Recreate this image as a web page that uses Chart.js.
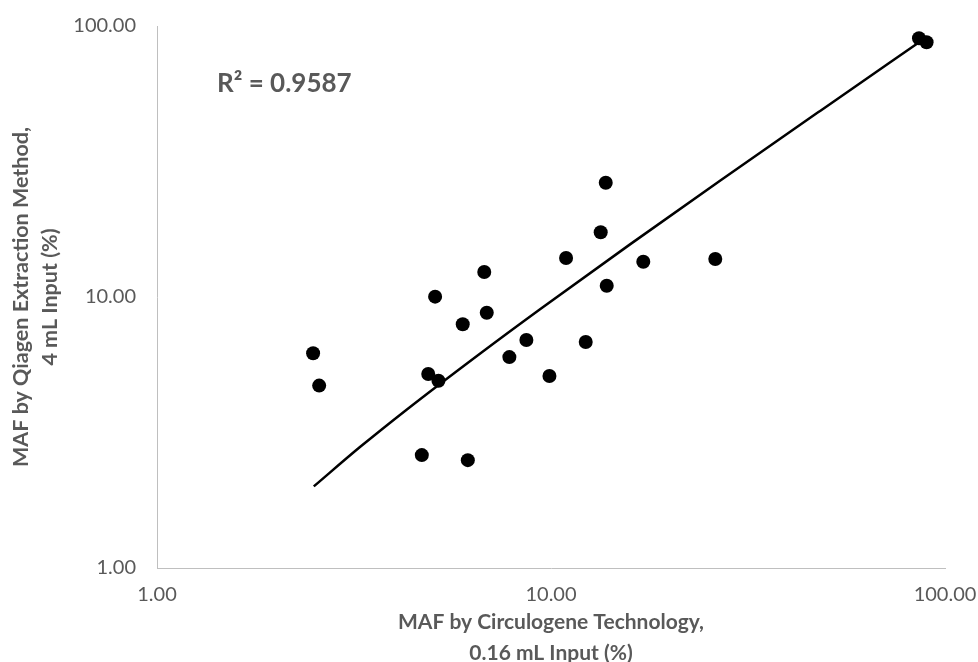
<!DOCTYPE html>
<html>
<head>
<meta charset="utf-8">
<script src="https://cdn.jsdelivr.net/npm/chart.js@4/dist/chart.umd.min.js"></script>
<style>
  html, body { margin: 0; padding: 0; background: #fff; }
  #wrap { width: 978px; height: 662px; }
</style>
</head>
<body>
<div id="wrap"><canvas id="graph" width="978" height="662"></canvas></div>
<script>
// MAF by Circulogene (x) vs Qiagen (y), in %
const circulogene = [2.49, 2.58, 5.08, 6.77, 6.87, 5.97, 4.88, 5.18, 7.84, 8.66, 4.70,
                     6.15, 9.91, 13.77, 13.37, 10.92, 17.15, 26.12, 13.85, 12.25, 85.9, 89.8];
const qiagen      = [6.20, 4.71, 10.03, 12.37, 8.75, 7.93, 5.20, 4.91, 6.00, 6.94, 2.61,
                     2.50, 5.11, 26.41, 17.33, 13.93, 13.50, 13.81, 11.01, 6.82, 90.1, 87.1];

// trendline as it appears on the log axes
const trendX = [2.50, 3.28, 4.30, 6.60, 9.38, 15.87, 26.85, 48.2, 88.0];
const trendY = [2.00, 2.80, 3.84, 6.18, 9.02, 15.64, 26.84, 48.6, 89.2];

const tickValues = [1, 10, 100];
const rSquared = 'R\u00B2 = 0.9587';

const grey = '#595959';
const axisGrey = '#bfbfbf';
const fontFamily = 'Lato, "Open Sans", sans-serif';

const points = circulogene.map((x, i) => ({ x: x, y: qiagen[i] }));
const trend = trendX.map((x, i) => ({ x: x, y: trendY[i] }));

const r2Label = {
    id: 'r2Label',
    afterDraw(chart) {
        const c = chart.ctx;
        c.save();
        c.font = 'bold 26px ' + fontFamily;
        c.fillStyle = grey;
        c.textBaseline = 'middle';
        c.textAlign = 'left';
        c.fillText(rSquared, 217, 84);
        c.restore();
    }
};

const ctx = document.getElementById('graph');

new Chart(ctx, {
    type: 'scatter',
    data: {
        datasets: [
            {
                label: 'MAF',
                data: points,
                backgroundColor: '#000',
                borderColor: '#000',
                borderWidth: 0,
                pointRadius: 7,
                order: 1
            },
            {
                label: 'Trend',
                data: trend,
                showLine: true,
                borderColor: '#000',
                borderWidth: 2.5,
                pointRadius: 0,
                cubicInterpolationMode: 'monotone',
                fill: false,
                order: 2
            }
        ]
    },
    options: {
        responsive: false,
        animation: false,
        events: [],
        layout: { autoPadding: false, padding: { top: 26, right: 33, left: 0, bottom: 0 } },
        plugins: {
            legend: { display: false },
            tooltip: { enabled: false }
        },
        scales: {
            x: {
                type: 'logarithmic',
                min: 1,
                max: 100,
                afterFit: (scale) => {
                    scale.height = 94;
                    scale.paddingLeft = 0;
                    scale.paddingRight = 0;
                },
                afterBuildTicks: (scale) => { scale.ticks = tickValues.map(v => ({ value: v })); },
                grid: { display: false, drawTicks: false },
                border: { display: true, color: axisGrey, width: 1 },
                ticks: {
                    padding: 15,
                    color: grey,
                    font: { family: fontFamily, size: 20 },
                    maxRotation: 0,
                    callback: (v) => Number(v).toFixed(2)
                },
                title: {
                    display: true,
                    text: ['MAF by Circulogene Technology,', '0.16 mL Input (%)'],
                    color: grey,
                    font: { family: fontFamily, size: 21, weight: 'bold', lineHeight: 1.45 },
                    padding: { top: 0, bottom: -6 }
                }
            },
            y: {
                type: 'logarithmic',
                min: 1,
                max: 100,
                afterFit: (scale) => {
                    scale.width = 157;
                    scale.paddingTop = 0;
                    scale.paddingBottom = 0;
                },
                afterBuildTicks: (scale) => { scale.ticks = tickValues.map(v => ({ value: v })); },
                grid: { display: false, drawTicks: false },
                border: { display: true, color: axisGrey, width: 1 },
                ticks: {
                    padding: 21,
                    color: grey,
                    font: { family: fontFamily, size: 20 },
                    callback: (v) => Number(v).toFixed(2)
                },
                title: {
                    display: true,
                    text: ['MAF by Qiagen Extraction Method,', '4 mL Input (%)'],
                    color: grey,
                    font: { family: fontFamily, size: 21.5, weight: 'bold', lineHeight: 1.35 },
                    padding: { top: 7, bottom: 0 }
                }
            }
        }
    },
    plugins: [r2Label]
});
</script>
</body>
</html>
